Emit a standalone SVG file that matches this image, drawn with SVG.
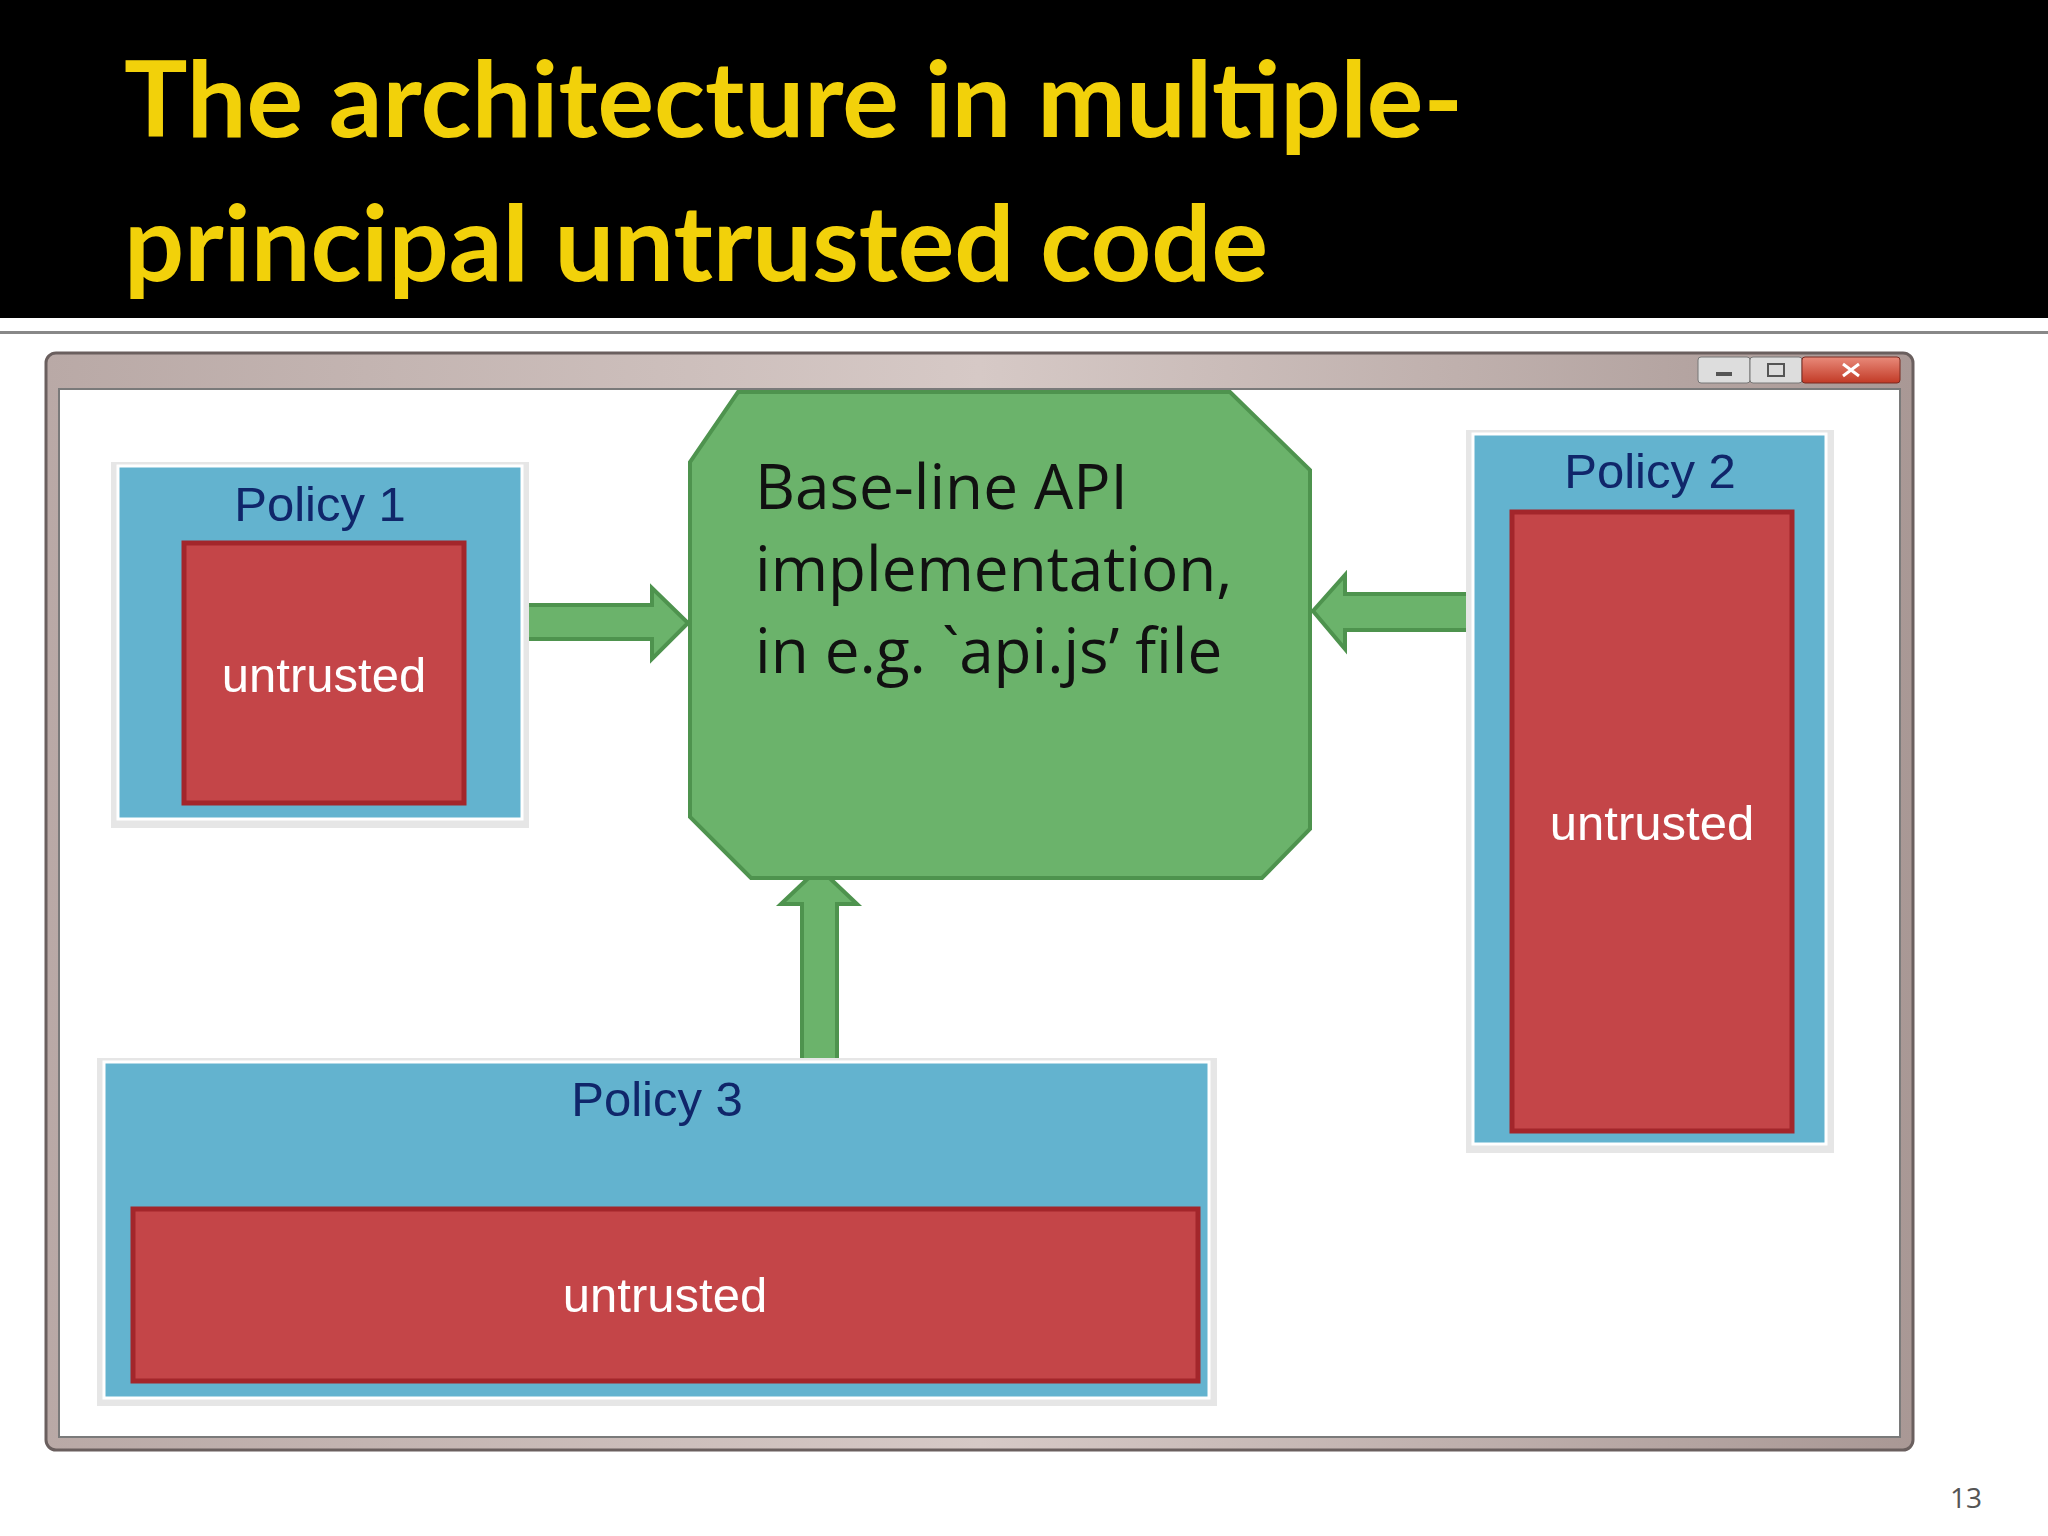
<svg xmlns="http://www.w3.org/2000/svg" width="2048" height="1536" viewBox="0 0 2048 1536">
<defs>
<linearGradient id="tb" x1="0" x2="1" y1="0" y2="0"><stop offset="0" stop-color="#b9a9a6"/><stop offset="0.5" stop-color="#d6c9c6"/><stop offset="1" stop-color="#a99895"/></linearGradient>
<linearGradient id="cl" x1="0" x2="0" y1="0" y2="1"><stop offset="0" stop-color="#e98a7a"/><stop offset="1" stop-color="#c23a26"/></linearGradient>
</defs>
<style>
.pol{fill:#63b3cf;stroke:#fff;stroke-width:3}
.polsh{fill:#e6e6e6}
.red{fill:#c44548;stroke:#a3262b;stroke-width:5}
.pt{font-family:"Liberation Sans",Arial,sans-serif;font-size:49px;fill:#10266a;text-anchor:middle}
.ut{font-family:"Liberation Sans",Arial,sans-serif;font-size:49px;fill:#fff;text-anchor:middle}
.arr{fill:#6bb36b;stroke:#4e934e;stroke-width:4}
.gt{font-family:"Open Sans","Liberation Sans",sans-serif;font-size:62px;fill:#111}
</style>
<rect width="2048" height="1536" fill="#fff"/>
<g id="header">
<rect x="0" y="0" width="2048" height="318" fill="#000"/>
<rect x="0" y="331" width="2048" height="3" fill="#888"/>
<text x="124" y="137" font-family="Lato,'Open Sans',sans-serif" font-weight="bold" font-size="106" fill="#f2d10a">The architecture in multiple-</text>
<text x="124" y="281" font-family="Lato,'Open Sans',sans-serif" font-weight="bold" font-size="106" fill="#f2d10a">principal untrusted code</text>
</g>
<g id="window">
<rect x="46" y="353" width="1867" height="1097" rx="10" fill="url(#tb)" stroke="#6a5f5e" stroke-width="3"/>
<rect x="59" y="389" width="1841" height="1048" fill="#fff" stroke="#7a7a7a" stroke-width="2"/>
<rect x="1698" y="357" width="52" height="26" rx="3" fill="#ddd" stroke="#777"/>
<rect x="1750" y="357" width="52" height="26" rx="3" fill="#ddd" stroke="#777"/>
<rect x="1802" y="357" width="98" height="26" rx="3" fill="url(#cl)" stroke="#7a2a20"/>
<rect x="1716" y="372" width="16" height="4" fill="#555"/>
<rect x="1768" y="364" width="16" height="12" fill="none" stroke="#555" stroke-width="2"/>
<path d="M1843 364 L1859 376 M1859 364 L1843 376" stroke="#fff" stroke-width="3"/>
</g>
<g id="connectors">
<polygon class="arr" points="525,605 652,605 652,588 688,623 652,659 652,639 525,639"/>
<polygon class="arr" points="1476,594 1345,594 1345,575 1313,611 1345,649 1345,630 1476,630"/>
<polygon class="arr" points="802,1062 802,904 781,904 819,868 857,904 837,904 837,1062"/>
</g>
<g id="api">
<polygon points="738,392 1230,392 1310,470 1310,829 1262,878 751,878 690,817 690,462" fill="#6bb36b" stroke="#4e934e" stroke-width="4"/>
<text class="gt" x="755" y="509">Base-line API</text>
<text class="gt" x="755" y="591">implementation,</text>
<text class="gt" x="755" y="673">in e.g. `api.js’ file</text>
</g>
<g id="policy1">
<rect class="polsh" x="111" y="462" width="418" height="366"/>
<rect class="pol" x="118" y="466" width="404" height="353"/>
<text class="pt" x="320" y="521">Policy 1</text>
<rect class="red" x="184" y="543" width="280" height="260"/>
<text class="ut" x="324" y="692">untrusted</text>
</g>
<g id="policy2">
<rect class="polsh" x="1466" y="430" width="368" height="723"/>
<rect class="pol" x="1473" y="434" width="353" height="710"/>
<text class="pt" x="1650" y="488">Policy 2</text>
<rect class="red" x="1512" y="512" width="280" height="619"/>
<text class="ut" x="1652" y="840">untrusted</text>
</g>
<g id="policy3">
<rect class="polsh" x="97" y="1058" width="1120" height="348"/>
<rect class="pol" x="104" y="1062" width="1105" height="336"/>
<text class="pt" x="657" y="1116">Policy 3</text>
<rect class="red" x="133" y="1209" width="1065" height="172"/>
<text class="ut" x="665" y="1312">untrusted</text>
</g>
<text x="1966" y="1508" font-family="'Open Sans',sans-serif" font-size="28" fill="#555" text-anchor="middle">13</text>
</svg>
